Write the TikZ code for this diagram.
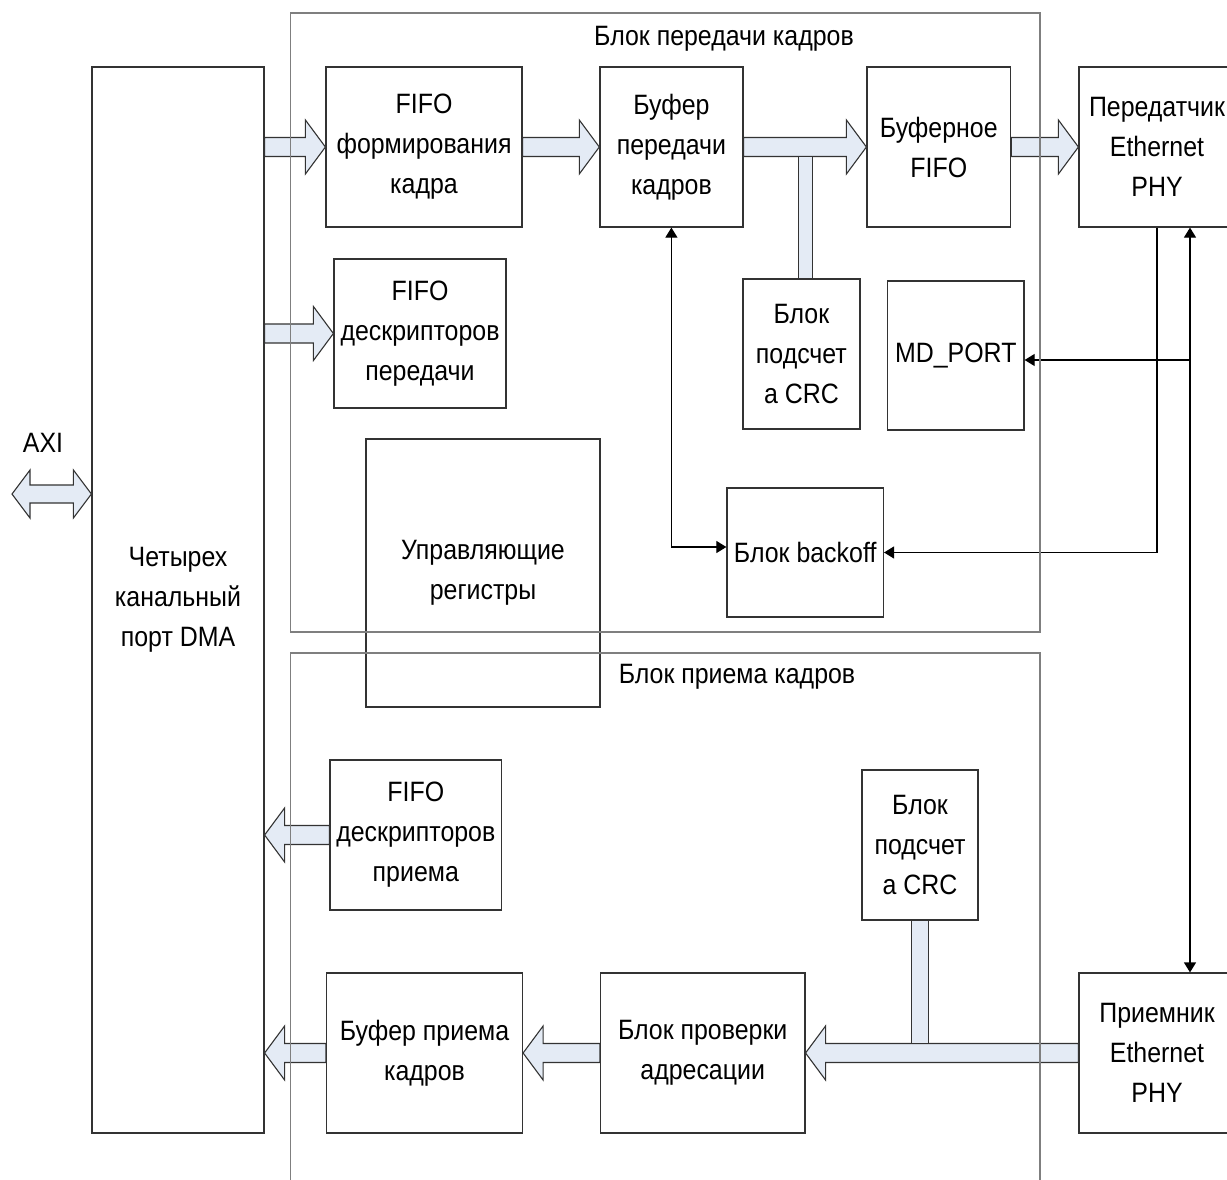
\documentclass[tikz,border=0pt]{standalone}
\usepackage{fontspec}
\setmainfont{Liberation Sans}[FakeStretch=0.89]
\usetikzlibrary{calc}
\usetikzlibrary{arrows.meta}

\definecolor{boxgray}{HTML}{333333}
\definecolor{framegray}{HTML}{7F7F7F}
\definecolor{arrowfill}{HTML}{E4EBF5}

\newcommand{\blkfont}{\fontsize{28}{40}\selectfont}

% wide hollow arrow, horizontal, from #1 to the tip #2
\newcommand{\fatarrow}[2]{%
    \draw[fatarrow] let \p1=(#1), \p2=(#2), \n1={sign(\x2-\x1)} in
        (\x1,\y2+9.5pt) -- ({\x2-20pt*\n1},\y2+9.5pt) -- ({\x2-20pt*\n1},\y2+27pt)
        -- (\x2,\y2) -- ({\x2-20pt*\n1},\y2-27pt) -- ({\x2-20pt*\n1},\y2-9.5pt)
        -- (\x1,\y2-9.5pt) -- cycle;}

\begin{document}
\begin{tikzpicture}[x=1pt, y=-1pt,
        box/.style={draw=boxgray, line width=1.2pt, align=center, inner sep=0pt, font=\blkfont},
        sz/.style 2 args={minimum width=#1pt, minimum height=#2pt},
        title/.style={inner sep=0pt, font=\blkfont},
        frame/.style={draw=framegray, line width=1.2pt},
        fatarrow/.style={draw=boxgray, line width=1.1pt, fill=arrowfill, line join=miter},
        sig/.style={draw=black, line width=1.2pt, >={Triangle[length=10pt,width=12pt]}}]
        \useasboundingbox (0,0) rectangle (1227,1180);

        % DMA port and AXI
        \node[box, sz={172}{1066}] (dma) at (178,600) {Четырех\\канальный\\порт DMA};
        \node[title] (axi) at (43,443) {AXI};
        \coordinate (axiend) at (12,494);

        % Transmit block
        \node[title] (txtitle) at (724,39) {Блок передачи кадров};
        \node[box, sz={196}{160}] (fifotx) at (424,147) {FIFO\\формирования\\кадра};
        \node[box, sz={143}{160}] (buftx) at (671.4,147) {Буфер\\передачи\\кадров};
        \node[box, sz={143.6}{160}] (buffifo) at (938.8,147) {Буферное\\FIFO};
        \node[box, sz={156}{160}] (phytx) at (1157,147) {Передатчик\\Ethernet\\PHY};
        \node[box, sz={172}{149}] (fifodtx) at (420,333.5) {FIFO\\дескрипторов\\передачи};
        \node[box, sz={117}{150}] (crctx) at (801.4,354) {Блок\\подсчет\\а CRC};
        \node[box, sz={136.5}{149}] (mdport) at (955.8,355.5) {MD\_PORT};
        \node[box, sz={234}{268}] (regs) at (483,573) {Управляющие\\регистры};
        \node[box, sz={156.5}{129}] (backoff) at (805.2,552.5) {Блок backoff};

        % Receive block
        \node[title] (rxtitle) at (737,677) {Блок приема кадров};
        \node[box, sz={171.6}{150}] (fiforx) at (415.8,835) {FIFO\\дескрипторов\\приема};
        \node[box, sz={116}{150}] (crcrx) at (920,845) {Блок\\подсчет\\а CRC};
        \node[box, sz={196}{160}] (bufrx) at (424.5,1053) {Буфер приема\\кадров};
        \node[box, sz={204.5}{160}] (checkrx) at (702.7,1053) {Блок проверки\\адресации};
        \node[box, sz={156}{160}] (phyrx) at (1157,1053) {Приемник\\Ethernet\\PHY};

        % Data paths (wide arrows)
        \draw[fatarrow] let \p1=(axiend), \p2=(dma.west |- axiend) in
            (\x1,\y1) -- (\x1+18pt,\y1+24pt) -- (\x1+18pt,\y1+9pt) -- (\x2-18pt,\y1+9pt)
            -- (\x2-18pt,\y1+24pt) -- (\x2,\y1) -- (\x2-18pt,\y1-24pt) -- (\x2-18pt,\y1-9pt)
            -- (\x1+18pt,\y1-9pt) -- (\x1+18pt,\y1-24pt) -- cycle;
        \fatarrow{dma.east |- fifotx.west}{fifotx.west}
        \fatarrow{fifotx.east}{buftx.west}
        \fatarrow{buftx.east}{buffifo.west}
        \fatarrow{buffifo.east}{phytx.west}
        \fatarrow{dma.east |- fifodtx.west}{fifodtx.west}
        \fatarrow{fiforx.west}{dma.east |- fiforx.west}
        \fatarrow{bufrx.west}{dma.east |- bufrx.west}
        \fatarrow{checkrx.west}{bufrx.east}
        \fatarrow{phyrx.west}{checkrx.east}

        % CRC taps
        \path (crctx.north) ++(-3,0) coordinate (tbar1);
        \path (buftx.east -| crctx.north) ++(11,9.5) coordinate (tbar2);
        \draw[fatarrow] (tbar1) rectangle (tbar2);
        \path (crcrx.south) ++(-8.5,0) coordinate (tbar3);
        \path (phyrx.west -| crcrx.south) ++(8.5,-9.5) coordinate (tbar4);
        \draw[fatarrow] (tbar3) rectangle (tbar4);

        % Control lines
        \draw[sig, <->] (buftx.south) |- ([yshift=5.5pt]backoff.west);
        \draw[sig, ->] (phytx.south) |- (backoff.east);
        \draw[sig, <->] ([xshift=33pt]phytx.south) -- ([xshift=33pt]phyrx.north);
        \coordinate (mdtap) at (1190,360);
        \draw[sig, ->] (mdtap) -- (mdtap -| mdport.east);

        % Block frames
        \draw[frame] (290.5,13) rectangle (1040,632);
        \draw[frame] (290.5,1180) |- (1040,653) -- (1040,1180);
\end{tikzpicture}
\end{document}
